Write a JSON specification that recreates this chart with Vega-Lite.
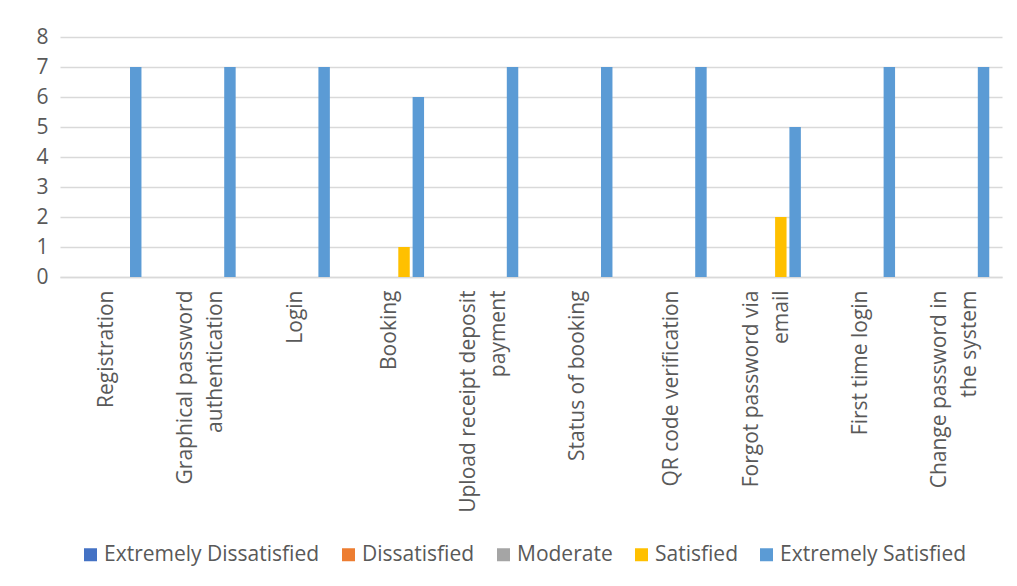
{
  "$schema": "https://vega.github.io/schema/vega-lite/v6.json",
  "width": 942,
  "height": 240,
  "autosize": {"type": "none"},
  "padding": {"left": 60, "top": 37, "right": 15, "bottom": 309},
  "background": "white",
  "data": {
    "values": [
      {"Feature": "Registration", "Extremely Dissatisfied": 0, "Dissatisfied": 0, "Moderate": 0, "Satisfied": 0, "Extremely Satisfied": 7},
      {"Feature": "Graphical password|authentication", "Extremely Dissatisfied": 0, "Dissatisfied": 0, "Moderate": 0, "Satisfied": 0, "Extremely Satisfied": 7},
      {"Feature": "Login", "Extremely Dissatisfied": 0, "Dissatisfied": 0, "Moderate": 0, "Satisfied": 0, "Extremely Satisfied": 7},
      {"Feature": "Booking", "Extremely Dissatisfied": 0, "Dissatisfied": 0, "Moderate": 0, "Satisfied": 1, "Extremely Satisfied": 6},
      {"Feature": "Upload receipt deposit|payment", "Extremely Dissatisfied": 0, "Dissatisfied": 0, "Moderate": 0, "Satisfied": 0, "Extremely Satisfied": 7},
      {"Feature": "Status of booking", "Extremely Dissatisfied": 0, "Dissatisfied": 0, "Moderate": 0, "Satisfied": 0, "Extremely Satisfied": 7},
      {"Feature": "QR code verification", "Extremely Dissatisfied": 0, "Dissatisfied": 0, "Moderate": 0, "Satisfied": 0, "Extremely Satisfied": 7},
      {"Feature": "Forgot password via|email", "Extremely Dissatisfied": 0, "Dissatisfied": 0, "Moderate": 0, "Satisfied": 2, "Extremely Satisfied": 5},
      {"Feature": "First time login", "Extremely Dissatisfied": 0, "Dissatisfied": 0, "Moderate": 0, "Satisfied": 0, "Extremely Satisfied": 7},
      {"Feature": "Change password in|the system", "Extremely Dissatisfied": 0, "Dissatisfied": 0, "Moderate": 0, "Satisfied": 0, "Extremely Satisfied": 7}
    ]
  },
  "transform": [
    {"fold": ["Extremely Dissatisfied", "Dissatisfied", "Moderate", "Satisfied", "Extremely Satisfied"], "as": ["Level", "Count"]}
  ],
  "mark": {"type": "bar"},
  "encoding": {
    "x": {
      "field": "Feature", "type": "nominal", "sort": null,
      "scale": {"paddingInner": 0.24, "paddingOuter": 0.12},
      "axis": {
        "title": null,
        "labelAngle": -90,
        "labelExpr": "split(datum.value, '|')",
        "labelFont": "Open Sans",
        "labelFontSize": 21,
        "labelColor": "#595959",
        "labelPadding": 13,
        "labelLineHeight": 30,
        "labelLimit": 300,
        "labelOffset": {"condition": {"test": "indexof(datum.value, '|') >= 0", "value": -15}, "value": 0},
        "ticks": false,
        "domainColor": "#d9d9d9",
        "domainWidth": 1.5,
        "labelBaseline": "middle"
      }
    },
    "xOffset": {
      "field": "Level", "type": "nominal",
      "scale": {"domain": ["Extremely Dissatisfied", "Dissatisfied", "Moderate", "Satisfied", "Extremely Satisfied"], "paddingInner": 0.2, "paddingOuter": 0.1}
    },
    "y": {
      "field": "Count", "type": "quantitative",
      "scale": {"domain": [0, 8]},
      "axis": {
        "title": null,
        "values": [0, 1, 2, 3, 4, 5, 6, 7, 8],
        "labelOverlap": false,
        "domain": false,
        "ticks": false,
        "gridColor": "#d9d9d9",
        "gridWidth": 1.5,
        "labelFont": "Open Sans",
        "labelFontSize": 21,
        "labelColor": "#595959",
        "labelPadding": 12
      }
    },
    "color": {
      "field": "Level", "type": "nominal",
      "scale": {
        "domain": ["Extremely Dissatisfied", "Dissatisfied", "Moderate", "Satisfied", "Extremely Satisfied"],
        "range": ["#4472C4", "#ED7D31", "#A5A5A5", "#FFC000", "#5B9BD5"]
      },
      "legend": {
        "title": null,
        "orient": "none",
        "direction": "horizontal",
        "legendX": 20,
        "legendY": 507,
        "symbolType": "square",
        "symbolSize": 169,
        "symbolStrokeWidth": 0,
        "labelFont": "Open Sans",
        "labelFontSize": 21,
        "labelColor": "#595959",
        "labelLimit": 300,
        "columnPadding": 18,
        "labelOffset": 3
      }
    }
  },
  "config": {
    "view": {"stroke": null}
  }
}
